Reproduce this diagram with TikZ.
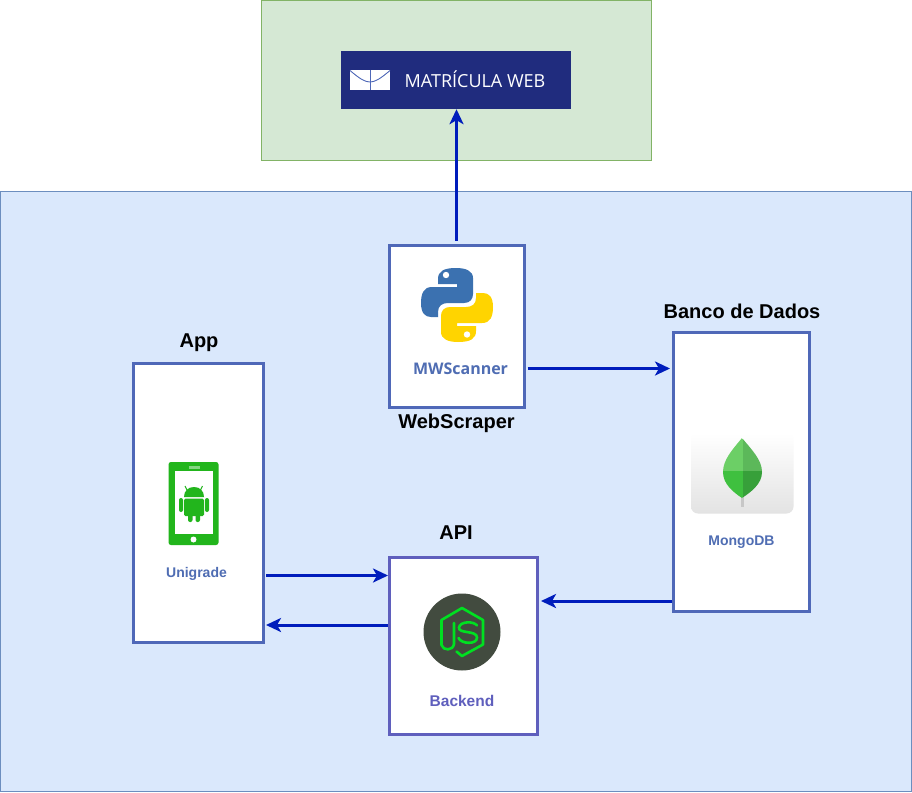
\documentclass[tikz,border=0pt]{standalone}
\usepackage{fontspec}
\setmainfont{Liberation Sans}
\newfontfamily\logofont{Open Sans}
\usetikzlibrary{arrows.meta, positioning}

\definecolor{zoneblue}{HTML}{DAE8FC}
\definecolor{zonebluedark}{HTML}{6C8EBF}
\definecolor{zonegreen}{HTML}{D5E8D4}
\definecolor{zonegreendark}{HTML}{82B366}
\definecolor{navy}{HTML}{202C7E}
\definecolor{boxline}{HTML}{4F68B8}
\definecolor{backline}{HTML}{5F5FBD}
\definecolor{flowblue}{HTML}{001DBC}
\definecolor{captionblue}{HTML}{4F6DB3}
\definecolor{pyblue}{HTML}{3B71B0}
\definecolor{pyyellow}{HTML}{FFD400}
\definecolor{droid}{HTML}{22B51C}
\definecolor{nodedark}{HTML}{424B3F}
\definecolor{nodegreen}{HTML}{00E021}
\definecolor{leafa}{HTML}{6CCF66}
\definecolor{leafb}{HTML}{5CB85A}
\definecolor{leafc}{HTML}{3FC03F}
\definecolor{leafd}{HTML}{37A03A}

\tikzset{
    zone/.style={draw, line width=0.8pt, rectangle},
    box/.style={draw=boxline, fill=white, line width=3pt, rectangle},
    title/.style={font=\fontsize{20}{24}\selectfont\bfseries, text=black, inner sep=0pt},
    caption/.style={font=\fontsize{14}{17}\selectfont\bfseries, text=captionblue, inner sep=0pt},
    flow/.style={-{Stealth[length=15pt,width=14pt,inset=4pt]}, draw=flowblue, line width=3pt}
}

\begin{document}
\begin{tikzpicture}[x=1pt, y=-1pt]
    \useasboundingbox (0,0) rectangle (912,792);

    % Zones
    \node (site) [zone, draw=zonegreendark, fill=zonegreen, minimum width=390pt, minimum height=160pt] at (456.5,80.5) {};
    \node (system) [zone, draw=zonebluedark, fill=zoneblue, minimum width=911pt, minimum height=600pt] at (456,491.5) {};

    % Nodes
    \node (matricula) [fill=navy, minimum width=230pt, minimum height=58pt] at (456,80) {};
    \node (matriculatext) [font=\logofont\fontsize{18}{20}\selectfont, text=white, inner sep=0pt] at (475,79) {MATRÍCULA WEB};
    \node (scraper) [box, minimum width=135pt, minimum height=162pt] at (456.5,326.5) {};
    \node (mongo) [box, minimum width=136pt, minimum height=279pt] at (741.5,472) {};
    \node (backend) [box, draw=backline, minimum width=148pt, minimum height=177pt] at (463.5,646) {};
    \node (app) [box, minimum width=130pt, minimum height=279pt] at (198.5,503) {};

    % Titles
    \node (scrapertitle) [title] at (456.5,423) {WebScraper};
    \node (mongotitle) [title] at (742,311) {Banco de Dados};
    \node (backendtitle) [title] at (456,533) {API};
    \node (apptitle) [title] at (199,343) {App};

    % Captions
    \node (scrapercaption) [caption, font=\logofont\fontsize{16}{20}\selectfont\bfseries] at (460.5,369) {MWScanner};
    \node (mongocaption) [caption] at (741.5,542) {MongoDB};
    \node (backendcaption) [caption, text=backline, font=\fontsize{15.5}{18}\selectfont\bfseries] at (462,701) {Backend};
    \node (appcaption) [caption] at (196.5,573.5) {Unigrade};

    % Edges
    \draw[flow, shorten <=3.5pt] (scraper.north) -- (scraper.north |- matricula.south);
    \draw[flow, shorten <=2pt, shorten >=2pt] ([yshift=-42pt]scraper.east) -- ([yshift=-42pt]scraper.east -| mongo.west);
    \draw[flow, shorten >=2pt] ([yshift=-129pt]mongo.west) -- ([yshift=-129pt]mongo.west -| backend.east);
    \draw[flow, shorten <=1pt] ([yshift=-72.5pt]app.east) -- ([yshift=-72.5pt]app.east -| backend.west);
    \draw[flow, shorten >=1pt] ([yshift=21pt]backend.west) -- ([yshift=21pt]backend.west -| app.east);

    % Envelope
    \fill[white] (350,70) -- (390,70) -- (390,90) -- (350,90) -- cycle;
    \draw[boxline, line width=0.9pt] (350,70.5) .. controls (360,79) and (365,82) .. (370,82) .. controls (375,82) and (380,79) .. (390,70.5);
    \draw[boxline, line width=1pt] (370,70) -- (370,90);

    % Python
    \fill[pyblue] (456,268) .. controls (444,268) and (438,271) .. (438,279) -- (438,284) -- (457,284) -- (457,287) -- (432,287)
        .. controls (424,287) and (421,293) .. (421,303) .. controls (421,313) and (425,317) .. (431,317) -- (438,317) -- (438,312)
        .. controls (438,306) and (442,303) .. (448,303) -- (464,303) .. controls (470,303) and (473,299) .. (473,294) -- (473,278)
        .. controls (473,271) and (466,268) .. (456,268) -- cycle;
    \fill[pyyellow] (458,342) .. controls (470,342) and (476,339) .. (476,331) -- (476,326) -- (457,326) -- (457,323) -- (482,323)
        .. controls (490,323) and (493,317) .. (493,307) .. controls (493,297) and (489,293) .. (483,293) -- (476,293) -- (476,298)
        .. controls (476,304) and (472,307) .. (466,307) -- (450,307) .. controls (444,307) and (441,311) .. (441,316) -- (441,332)
        .. controls (441,339) and (448,342) .. (458,342) -- cycle;
    \fill[white] (446,275) circle (3.2pt) (467,334.5) circle (3.2pt);

    % Android
    \fill[droid, rounded corners=2.5pt] (168.5,462) rectangle (218.5,545);
    \fill[white] (174.5,471) rectangle (213,534);
    \fill[white, opacity=0.45] (188.5,465.5) rectangle (199.5,468.5);
    \fill[white] (193.5,539.5) circle (3pt);
    \fill[droid] (184,497) .. controls (184,491) and (188,487) .. (194,487) .. controls (200,487) and (204,491) .. (204,497) -- cycle;
    \draw[droid, line width=1pt] (187,490) -- (185,486) (200.5,490) -- (202.5,486);
    \fill[droid, rounded corners=1.5pt] (184,498.5) rectangle (204,516);
    \fill[droid, rounded corners=2pt] (179,498) rectangle (183,512) (205,498) rectangle (209,512)
        (188,512) rectangle (192.5,522) (195.5,512) rectangle (200,522);

    % Node
    \fill[nodedark] (462,632) circle (38.5pt);
    \draw[nodegreen, line width=2.6pt, line join=round, line cap=round] (456.5,651.5) -- (462,656) -- (483,644.5) -- (483,620) -- (462,608) -- (441.5,620) -- (441.5,645)
        .. controls (443,651) and (453,651) .. (454,644) -- (454,623);
    \draw[nodegreen, line width=2.6pt, line cap=round] (477,625.5) .. controls (474,621) and (460,621) .. (459,627.5) .. controls (458,634) and (477,630) .. (477,637.5) .. controls (477,645) and (461,644) .. (458.5,638);

    % Mongo
    \shade[top color=white, bottom color=black!11, rounded corners=7pt] (691,433) rectangle (793.5,513.5);
    \fill[black!22] (741,490) rectangle (744,507);
    \begin{scope}
        \clip (742,438) .. controls (732,450) and (723,460) .. (723,472) .. controls (723,484) and (733,492) .. (742,498) .. controls (751,492) and (762,484) .. (762,472) .. controls (762,460) and (752,450) .. (742,438) -- cycle;
        \fill[leafa] (720,436) rectangle (742.5,471);
        \fill[leafb] (742.5,436) rectangle (765,471);
        \fill[leafc] (720,471) rectangle (742.5,500);
        \fill[leafd] (742.5,471) rectangle (765,500);
    \end{scope}
\end{tikzpicture}
\end{document}
